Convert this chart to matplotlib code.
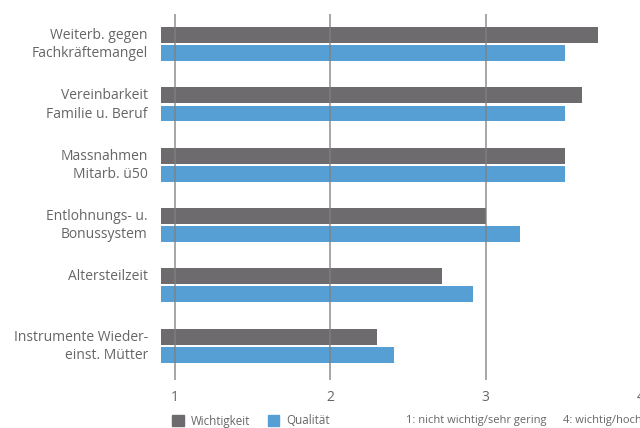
import matplotlib
matplotlib.use("Agg")
import matplotlib.pyplot as plt
from matplotlib.patches import Patch
from matplotlib.transforms import ScaledTranslation
import numpy as np

categories = ["Weiterb. gegen\nFachkräftemangel", "Vereinbarkeit\nFamilie u. Beruf",
              "Massnahmen\nMitarb. ü50", "Entlohnungs- u.\nBonussystem",
              "Altersteilzeit\n", "Instrumente Wieder-\neinst. Mütter"]
wichtigkeit = [3.72, 3.62, 3.51, 3.00, 2.72, 2.30]
qualitaet = [3.51, 3.51, 3.51, 3.22, 2.92, 2.41]
series_names = ["Wichtigkeit", "Qualität"]
xticks = [1, 2, 3, 4]
notes = ["1: nicht wichtig/sehr gering", "4: wichtig/hoch"]

GRAY = "#6d6b6e"
BLUE = "#559fd5"
TXT = "#666666"
plt.rcParams['font.family'] = ['Open Sans', 'DejaVu Sans']

fig = plt.figure(figsize=(6.4, 4.28), dpi=100)
ax = fig.add_axes([161/640, 48/428, 480/640, 366/428])
xmin = 0.91
y = np.arange(len(categories))
h = 0.265
ax.barh(y - 0.15, np.array(wichtigkeit) - xmin, left=xmin, height=h, color=GRAY, zorder=1)
ax.barh(y + 0.15, np.array(qualitaet) - xmin, left=xmin, height=h, color=BLUE, zorder=1)
ax.set_xlim(xmin, 4.0)
ax.set_ylim(5.57, -0.5)
ax.set_xticks(xticks)
ax.set_xticklabels([str(t) for t in xticks])
ax.set_yticks(y)
ax.set_yticklabels(categories, linespacing=1.3)
for s in ax.spines.values():
    s.set_visible(False)
ax.tick_params(axis='y', length=0, pad=9.5, labelsize=10, labelcolor=TXT)
ax.tick_params(axis='x', length=0, pad=7, labelsize=10, labelcolor=TXT)
shift = ScaledTranslation(0, 3/100, fig.dpi_scale_trans)
for lab in ax.get_yticklabels():
    lab.set_transform(lab.get_transform() + shift)
ax.grid(axis='x', color='#808080', alpha=0.7, linewidth=1.4, zorder=3)
ax.grid(axis='y', visible=False)
ax.set_axisbelow(False)

handles = [Patch(color=GRAY, label=series_names[0]), Patch(color=BLUE, label=series_names[1])]
fig.legend(handles=handles, loc='center left', bbox_to_anchor=(172/640, 7/428), ncol=2,
           frameon=False, fontsize=8.4, labelcolor=TXT, handlelength=1.0, handleheight=1.0,
           handletextpad=0.6, columnspacing=1.5, borderaxespad=0, borderpad=0)
fig.text(406/640, 7/428, notes[0], fontsize=8, color=TXT, va='center', ha='left')
fig.text(563/640, 7/428, notes[1], fontsize=8, color=TXT, va='center', ha='left')

fig.savefig("out.png", dpi=100)
